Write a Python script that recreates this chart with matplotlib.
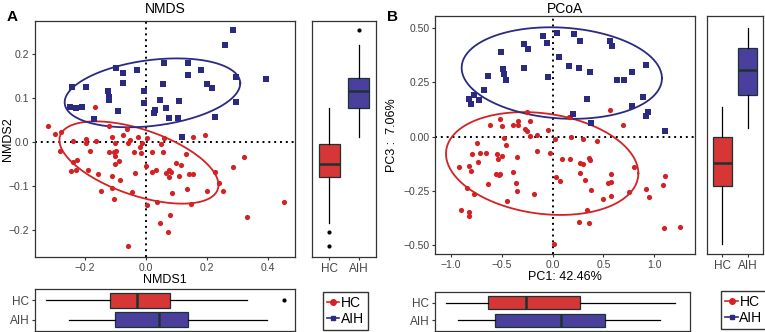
import numpy as np
import matplotlib
matplotlib.use("Agg")
import matplotlib.pyplot as plt
from matplotlib.lines import Line2D

plt.rcParams['font.family'] = ['Liberation Sans', 'DejaVu Sans']

RED = '#D42224'
BLUE = '#2B2A82'
BOX_RED = '#D63636'
BOX_BLUE = '#4B3F9E'
EDGE = '#1E3232'

groups = ['HC', 'AIH']

# ---- NMDS scatter ----
nmds_hc_x = [-0.321, -0.297, -0.279, -0.281, -0.238, -0.245, -0.231, -0.226, -0.239, -0.198,
             -0.196, -0.189, -0.182, -0.168, -0.165, -0.156, -0.146, -0.122, -0.120, -0.111,
             -0.102, -0.106, -0.101, -0.098, -0.101, -0.111, -0.112, -0.104, -0.090, -0.084,
             -0.075, -0.063, -0.059, -0.051, -0.046, -0.039, -0.037, -0.027, -0.019, -0.013,
             -0.015, 0.000, 0.003, 0.003, 0.020, 0.021, 0.033, 0.037, 0.045, 0.050,
             0.056, 0.058, 0.066, 0.072, 0.074, 0.077, 0.080, 0.083, 0.087, 0.098,
             0.114, 0.107, 0.130, 0.134, 0.140, 0.154, 0.149, 0.156, 0.193, 0.200,
             0.228, 0.239, 0.252, 0.287, 0.321, 0.332, 0.454, -0.060]
nmds_hc_y = [0.037, 0.019, 0.023, -0.020, 0.002, -0.065, -0.063, -0.041, -0.045, 0.007,
             -0.001, -0.064, -0.019, 0.080, 0.004, -0.072, -0.111, 0.036, -0.021, 0.013,
             -0.001, -0.021, -0.031, -0.019, -0.049, -0.077, -0.105, -0.130, -0.042, -0.086,
             0.017, 0.030, -0.002, 0.005, -0.114, -0.023, -0.070, 0.011, -0.010, -0.002,
             -0.024, -0.055, 0.010, -0.143, -0.067, -0.023, -0.064, -0.136, -0.184, -0.004,
             -0.022, 0.010, -0.071, -0.205, -0.063, -0.080, -0.165, -0.068, -0.116, -0.046,
             -0.051, -0.076, -0.027, -0.107, -0.073, 0.013, -0.141, -0.072, 0.016, -0.110,
             -0.067, -0.093, -0.111, -0.057, -0.034, -0.170, -0.136, -0.236]
nmds_aih_x = [0.287, 0.260, 0.395, 0.295, 0.060, 0.137, 0.182, 0.139, 0.200, 0.217,
              0.294, 0.226, 0.107, 0.105, 0.075, 0.066, 0.045, 0.056, 0.030, 0.026,
              -0.008, -0.005, -0.030, -0.075, -0.075, -0.099, -0.125, -0.122, -0.121, -0.092,
              -0.198, -0.242, -0.250, -0.228, -0.209, -0.169, 0.119]
nmds_aih_y = [0.255, 0.221, 0.145, 0.149, 0.181, 0.180, 0.164, 0.154, 0.133, 0.123,
              0.091, 0.057, 0.094, 0.055, 0.056, 0.077, 0.096, 0.132, 0.073, 0.067,
              0.117, 0.089, 0.164, 0.134, 0.158, 0.170, 0.117, 0.104, 0.096, 0.071,
              0.125, 0.125, 0.081, 0.079, 0.080, 0.054, 0.012]

# ellipses: centre x, centre y, x half-range, y half-range, phase (deg)
nmds_ell_hc = [-0.023, -0.046, 0.261, 0.0936, 123]
nmds_ell_aih = [0.0213, 0.1125, 0.288, 0.0784, 74]

# box stats: whislo, q1, med, q3, whishi, fliers
nmds1_box_hc = [-0.327, -0.117, -0.030, 0.080, 0.331, [0.454]]
nmds1_box_aih = [-0.251, -0.103, 0.042, 0.138, 0.397, []]
nmds2_box_hc = [-0.184, -0.080, -0.049, -0.004, 0.077, [-0.203, -0.237]]
nmds2_box_aih = [0.013, 0.077, 0.117, 0.147, 0.221, [0.255]]

# ---- PCoA scatter ----
pcoa_hc_x = [-0.256, 0.567, 0.157, 0.170, -0.521, -0.344, -0.220, -0.616, -0.502, -0.393,
             -0.344, -0.275, -0.256, -0.043, 0.695, -0.475, -0.220, -0.151, 0.023, 0.177,
             0.298, 0.439, -0.741, -0.462, -0.790, -0.718, -0.652, -0.544, -0.502, -0.541,
             -0.354, -0.154, -0.030, 0.092, 0.170, 0.272, 0.295, 0.361, 0.364, -0.734,
             -0.918, -0.820, -0.807, 0.803, -0.554, -0.518, -0.531, -0.390, 0.269, 0.030,
             0.069, 0.321, 0.574, 0.577, 0.541, -0.636, -0.364, -0.843, -0.354, -0.184,
             0.374, 0.754, -0.777, 0.577, 0.492, -0.449, 0.915, 0.948, 1.105, 1.082,
             -0.898, -0.826, -0.826, 0.334, 0.262, 0.357, 1.092, 1.252, 0.010]
pcoa_hc_y = [0.114, 0.123, 0.089, 0.092, 0.080, 0.074, 0.074, 0.055, 0.049, 0.052,
             0.052, 0.037, 0.025, 0.031, 0.055, -0.006, 0.003, 0.008, -0.012, -0.003,
             -0.012, -0.022, -0.031, -0.037, -0.080, -0.077, -0.077, -0.080, -0.089, -0.103,
             -0.095, -0.066, -0.074, -0.104, -0.103, -0.120, -0.126, -0.097, -0.108, -0.118,
             -0.141, -0.134, -0.158, -0.141, -0.170, -0.170, -0.175, -0.164, -0.169, -0.184,
             -0.203, -0.200, -0.172, -0.207, -0.215, -0.218, -0.215, -0.237, -0.249, -0.264,
             -0.246, -0.253, -0.264, -0.275, -0.287, -0.298, -0.241, -0.280, -0.180, -0.221,
             -0.338, -0.349, -0.366, -0.338, -0.395, -0.396, -0.422, -0.415, -0.493]
pcoa_aih_x = [0.039, -0.098, 0.207, -0.052, 0.272, -0.282, -0.246, -0.508, 0.564, 0.584,
              0.062, 0.164, 0.256, 0.367, 0.784, 0.918, -0.279, -0.485, -0.475, -0.462,
              -0.639, -0.043, 0.630, 0.702, -0.675, -0.770, -0.823, -0.728, -0.807, 0.341,
              0.892, 0.777, 0.934, 0.920, 0.197, 0.380, 1.108]
pcoa_aih_y = [0.479, 0.465, 0.473, 0.430, 0.441, 0.426, 0.404, 0.389, 0.442, 0.419,
              0.369, 0.324, 0.316, 0.300, 0.300, 0.330, 0.318, 0.313, 0.287, 0.263,
              0.280, 0.276, 0.261, 0.260, 0.214, 0.194, 0.175, 0.171, 0.149, 0.175,
              0.181, 0.141, 0.115, 0.095, 0.106, 0.061, 0.028]

pcoa_ell_hc = [-0.103, -0.124, 0.946, 0.237, 101]
pcoa_ell_aih = [0.090, 0.293, 0.985, 0.211, 96.5]

pc1_box_hc = [-1.043, -0.626, -0.249, 0.295, 1.246, []]
pc1_box_aih = [-0.928, -0.551, 0.105, 0.548, 1.095, []]
pc3_box_hc = [-0.495, -0.226, -0.123, -0.003, 0.135, []]
pc3_box_aih = [0.041, 0.192, 0.307, 0.410, 0.499, []]

W, H = 765, 332
fig = plt.figure(figsize=(W / 100, H / 100), dpi=100)


def px_axes(left, top, right, bottom):
    return fig.add_axes([left / W, 1 - bottom / H, (right - left) / W, (bottom - top) / H])


def style(ax):
    for s in ax.spines.values():
        s.set_color('#333333')
        s.set_linewidth(0.9)
    ax.tick_params(length=2.5, width=0.8, color='#333333', labelcolor='#444444',
                   labelsize=7.5, pad=1.5)


def ellipse(ax, p, color):
    t = np.linspace(0, 2 * np.pi, 200)
    cx, cy, rx, ry, ph = p
    ax.plot(cx + rx * np.cos(t), cy + ry * np.cos(t + np.radians(ph)), color=color, lw=1.3)


def boxes(ax, stats, vert):
    st = [dict(whislo=s[0], q1=s[1], med=s[2], q3=s[3], whishi=s[4], fliers=s[5]) for s in stats]
    b = ax.bxp(st, positions=[1, 2], widths=0.75, vert=vert, patch_artist=True,
               showcaps=False,
               boxprops=dict(edgecolor=EDGE, linewidth=0.9),
               medianprops=dict(color=EDGE, linewidth=1.8),
               whiskerprops=dict(color='black', linewidth=0.9),
               flierprops=dict(marker='o', markersize=2, markerfacecolor='black',
                               markeredgecolor='black'))
    for patch, c in zip(b['boxes'], [BOX_RED, BOX_BLUE]):
        patch.set_facecolor(c)


def panel(x_hc, y_hc, x_aih, y_aih, ell_hc, ell_aih, xbox, ybox, xlim, ylim,
          xticks, yticks, yfmt, title, tpad, xlabel, ylabel, ylab_x, main, right, bottom,
          leg_c, letter):
    ax = px_axes(*main)
    style(ax)
    ax.axhline(0, color='black', lw=1.4, ls=(0, (1, 2)))
    ax.axvline(0, color='black', lw=1.4, ls=(0, (1, 2)))
    ax.scatter(x_hc, y_hc, s=14, color=RED, marker='o', linewidths=0, zorder=3)
    ax.scatter(x_aih, y_aih, s=13, color=BLUE, marker='s', linewidths=0, zorder=3)
    ellipse(ax, ell_hc, RED)
    ellipse(ax, ell_aih, BLUE)
    ax.set_xlim(xlim)
    ax.set_ylim(ylim)
    ax.set_xticks(xticks)
    ax.set_yticks(yticks)
    ax.set_yticklabels([yfmt.format(v).replace('-', '\u2212') for v in yticks])
    ax.set_xticklabels([('%.1f' % v).replace('-', '\u2212') for v in xticks])
    ax.set_title(title, fontsize=10, pad=tpad)
    ax.set_xlabel(xlabel, fontsize=9, labelpad=1)
    ax.set_ylabel(ylabel, fontsize=9, va='center')
    ax.yaxis.set_label_coords((ylab_x - main[0]) / (main[2] - main[0]), 0.5)

    axr = px_axes(*right)
    style(axr)
    boxes(axr, ybox, True)
    axr.set_ylim(ylim)
    axr.set_xlim(0.4, 2.6)
    axr.set_yticks([])
    axr.set_xticks([1, 2])
    axr.set_xticklabels(groups, fontsize=8.5)

    axb = px_axes(*bottom)
    style(axb)
    boxes(axb, xbox, False)
    axb.set_xlim(xlim)
    axb.set_ylim(2.6, 0.4)
    axb.set_xticks([])
    axb.set_yticks([1, 2])
    axb.set_yticklabels(groups, fontsize=8.5)

    handles = [Line2D([], [], color=RED, marker='o', markersize=4, lw=1.2),
               Line2D([], [], color=BLUE, marker='s', markersize=3.5, lw=1.2)]
    leg = fig.legend(handles, groups, loc='center',
                     bbox_to_anchor=(leg_c[0] / W, 1 - leg_c[1] / H),
                     fontsize=10, frameon=True, fancybox=False, handlelength=0.9,
                     handletextpad=0.1, borderpad=0.3, labelspacing=0.1, borderaxespad=0)
    leg.get_frame().set_edgecolor('black')
    leg.get_frame().set_linewidth(1.0)

    fig.text(letter[0] / W, 1 - letter[1] / H, letter[2], fontsize=11, fontweight='bold',
             ha='left', va='center')


panel(nmds_hc_x, nmds_hc_y, nmds_aih_x, nmds_aih_y, nmds_ell_hc, nmds_ell_aih,
      [nmds1_box_hc, nmds1_box_aih], [nmds2_box_hc, nmds2_box_aih],
      (-0.364, 0.489), (-0.261, 0.276), [-0.2, 0.0, 0.2, 0.4], [-0.2, -0.1, 0.0, 0.1, 0.2],
      '{:.1f}', 'NMDS', 5.5, 'NMDS1', 'NMDS2', 8,
      (35, 21, 295, 257), (312, 21, 376, 257), (35, 289, 295, 331), (345.5, 311),
      (7, 17, 'A'))

panel(pcoa_hc_x, pcoa_hc_y, pcoa_aih_x, pcoa_aih_y, pcoa_ell_hc, pcoa_ell_aih,
      [pc1_box_hc, pc1_box_aih], [pc3_box_hc, pc3_box_aih],
      (-1.157, 1.40), (-0.541, 0.556), [-1.0, -0.5, 0.0, 0.5, 1.0], [-0.5, -0.25, 0.0, 0.25, 0.5],
      '{:.2f}', 'PCoA', 2, 'PC1: 42.46%', 'PC3 :  7.06%', 392,
      (435, 16, 695, 254), (707, 16, 763, 254), (435, 292, 690, 331), (744, 310),
      (387, 17, 'B'))

fig.savefig('out.png', dpi=100)
